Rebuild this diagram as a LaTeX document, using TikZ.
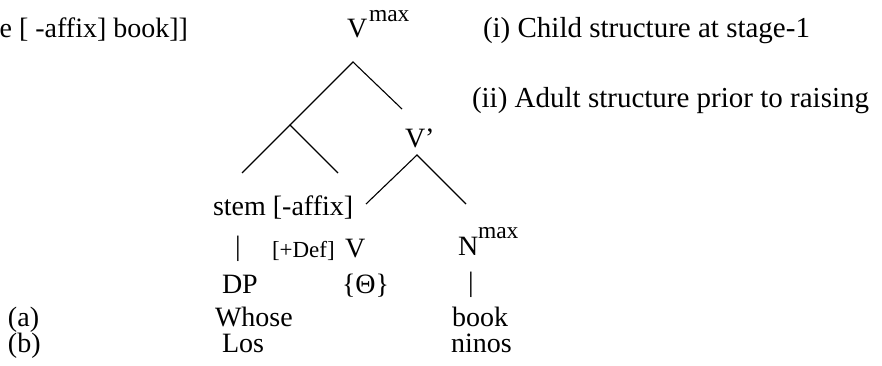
\documentclass[tikz,border=0pt]{standalone}
\usepackage{fontspec}
\setmainfont{Liberation Serif}
\begin{document}
\begin{tikzpicture}[x=1pt,y=-1pt,
  txt/.style={anchor=base west,inner sep=0pt,outer sep=0pt,font=\fontsize{28}{30}\selectfont},
  bigtxt/.style={txt,font=\fontsize{29}{31}\selectfont},
  smalltxt/.style={txt,font=\fontsize{23}{25}\selectfont},
  supx/.style={anchor=base west,inner sep=0pt,outer sep=0pt,font=\fontsize{23.5}{25}\selectfont},
  branch/.style={line width=1.1pt}]
\useasboundingbox (0,0) rectangle (882,366);
% top row
\node[txt,anchor=base east] (frag) at (188,38) {e [ -affix] book]]};
\node[txt] (vmaxV) at (347,38) {V};
\node[supx] (vmaxS) at (369,22) {max};
\node[bigtxt] (lab1) at (483,38) {(i) Child structure at stage-1};
\node[bigtxt] (lab2) at (472,108) {(ii) Adult structure prior to raising};
% tree
\coordinate (top) at (353,62);
\coordinate (topR) at (402,109);
\coordinate (mid) at (290,125);
\coordinate (midL) at (242,173);
\coordinate (midR) at (338,173);
\node[txt] (vbarLab) at (405,147) {V’};
\coordinate (vtop) at (417,155);
\coordinate (vL) at (366,204);
\coordinate (vR) at (466,204);
\draw[branch] (topR) -- (top) -- (mid);
\draw[branch] (midL) -- (mid) -- (midR);
\draw[branch] (vL) -- (vtop) -- (vR);
% lower rows
\node[txt] (stem) at (213,215) {stem [-affix]};
\node[txt] (bar1) at (235,255) {|};
\node[smalltxt] (def) at (272,257) {[+Def]};
\node[txt] (vv) at (345,257) {V};
\node[txt] (nn) at (458,255) {N};
\node[supx] (nmax) at (478,238) {max};
\node[txt] (bar2) at (468,291) {|};
\node[txt] (dp) at (222,293) {DP};
\node[txt] (theta) at (342,293) {\{Θ\}};
\node[txt] (la) at (8,326) {(a)};
\node[txt] (whose) at (215,326) {Whose};
\node[txt] (book) at (452,326) {book};
\node[txt] (lb) at (8,352) {(b)};
\node[txt] (los) at (222,352) {Los};
\node[txt] (ninos) at (451,352) {ninos};
\end{tikzpicture}
\end{document}
